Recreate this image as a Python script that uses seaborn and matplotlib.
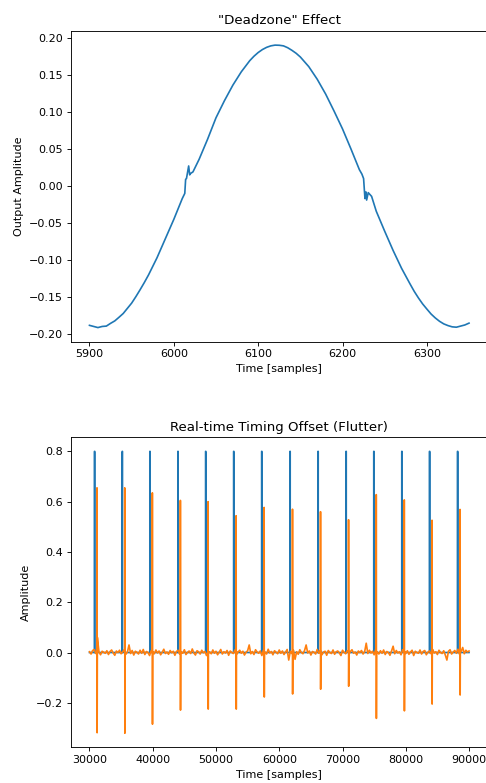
import numpy as np
import matplotlib
matplotlib.use("Agg")
import matplotlib.pyplot as plt
import seaborn as sns

# ---------------- "Deadzone" Effect ----------------
dz_time = [5900, 5905, 5910, 5915, 5920, 5925, 5930, 5935, 5940, 5945, 5950, 5955,
           5960, 5965, 5970, 5980, 5990,
           6000, 6010, 6013, 6014, 6015, 6017.6, 6018.8, 6020, 6022.7, 6030,
           6040, 6050, 6060, 6070, 6080, 6090, 6095, 6100, 6105, 6110, 6115,
           6120, 6125, 6130, 6135, 6140, 6145, 6150, 6160, 6170, 6180, 6190,
           6200, 6210, 6220, 6223, 6225, 6226.6, 6227.8, 6228.6, 6230.5, 6234.5,
           6240, 6250, 6260, 6270, 6280, 6285, 6290, 6295, 6300, 6305, 6310,
           6315, 6320, 6325, 6330, 6335, 6340, 6345, 6350]
dz_output = [-0.188, -0.1895, -0.191, -0.1895, -0.189, -0.1853, -0.182, -0.1771, -0.172, -0.165, -0.158, -0.1493,
             -0.140, -0.1303, -0.120, -0.097, -0.071,
             -0.045, -0.017, -0.010, 0.009, 0.010, 0.027, 0.015, 0.017, 0.019, 0.036,
             0.063, 0.092, 0.115, 0.136, 0.154, 0.169, 0.175, 0.180, 0.184, 0.187, 0.189,
             0.190, 0.1898, 0.189, 0.1865, 0.183, 0.179, 0.174, 0.161, 0.144, 0.124, 0.101,
             0.077, 0.050, 0.022, 0.016, 0.010, -0.017, -0.008, -0.019, -0.009, -0.014,
             -0.034, -0.061, -0.087, -0.111, -0.132, -0.1421, -0.151, -0.1591, -0.166, -0.1727, -0.178,
             -0.1825, -0.186, -0.1883, -0.190, -0.1905, -0.189, -0.1875, -0.185]

# ---------------- Real-time Timing Offset (Flutter) ----------------
signal_start, signal_end = 30000, 90000
clock_times = [30791, 35174, 39541, 43972, 48354, 52785, 57215,
               61693, 66123, 70554, 74937, 79367, 83750, 88180]
clock_level = 0.8
offset_times = [31191, 35574, 39941, 44372, 48754, 53185, 57615,
                62093, 66523, 70954, 75337, 79767, 84150, 88580]
offset_peaks = [0.655, 0.655, 0.635, 0.605, 0.600, 0.544, 0.577,
                0.570, 0.560, 0.528, 0.628, 0.607, 0.526, 0.569]
offset_dips = [-0.319, -0.321, -0.285, -0.229, -0.225, -0.225, -0.177,
               -0.165, -0.146, -0.134, -0.262, -0.232, -0.205, -0.169]
# baseline jitter of the timing offset, in thousandths
offset_noise_milli = [
    3, -6, 8, 12, -4, 60, 2, -9, 5, 1, -3, 7, -8, 4, 10, -2, -11, 6, 0, 9,
    -5, 3, 11, -7, 2, 30, -4, 8, -10, 5, 1, -6, 9, -3, 12, -8, 4, 0, -12, 7,
    3, -5, 10, -2, 6, -9, 1, 13, -4, 2, -7, 8, -1, 5, -11, 4, 9, -6, 2, -3,
    11, -8, 0, 6, -4, 14, -2, -10, 7, 3, -6, 9, -1, 4, -12, 8, 2, -5, 10, -3,
    5, -9, 1, 12, -6, 3, -2, 8, -11, 6, 0, -4, 10, -7, 2, 9, -3, 5, -10, 1,
    7, 30, -5, 4, -8, 11, 2, -3, 6, -12, 9, 0, -6, 13, -2, 4, -9, 7, 1, -5,
    10, -3, 6, -8, 2, 12, -30, 5, -4, 9, -27, 3, -7, 11, 0, -5, 8, 30, -2, 6,
    -10, 4, 1, -6, 12, -3, 7, -9, 2, 5, -11, 8, 0, -4, 10, -7, 3, 6, -2, -12,
    9, 1, -5, 7, -8, 4, 11, -3, 2, -10, 6, 0, 8, -6, 3, 37, -4, 9, -2, 5,
    -9, 12, 1, -6, 7, -3, 10, -8, 4, 0, -11, 6, 25, -5, 8, -2, 3, -9, 11, 1,
    -4, 7, -7, 2, 9, -12, 5, 0, -3, 10, -6, 4, 8, -9, 1, 6, -5, 12, -2, 3,
    -8, 9, 0, -4, 7, -10, -30, 5, 11, -6, 2, 8, -3, 13, -7, 4, 20, -5, 9, 2, 6]

# ---- build series ----
ct = np.array(clock_times, dtype=float)
clock_x = np.concatenate([[signal_start], np.column_stack([ct - 1, ct, ct + 40, ct + 41]).ravel(), [signal_end]])
clock_y = np.concatenate([[0.0], np.tile([0.0, clock_level, clock_level, 0.0], len(ct)), [0.0]])

noise = np.array(offset_noise_milli, dtype=float) / 1000.0
noise_x = np.linspace(signal_start, signal_end, len(noise))
ot = np.array(offset_times, dtype=float)
off_x = np.concatenate([noise_x, ot - 8, ot, ot + 20, ot + 45])
off_y = np.concatenate([noise, np.full(len(ot), 0.003), offset_peaks, offset_dips, np.full(len(ot), 0.004)])
order = np.argsort(off_x, kind="stable")
off_x, off_y = off_x[order], off_y[order]

# ---------------- plotting ----------------
DPI = 80
W, H = 486.0, 783.0
fig = plt.figure(figsize=(W / DPI, H / DPI), dpi=DPI)
ax1 = fig.add_axes([70.5 / W, (H - 341.7) / H, (488 - 70.5) / W, (341.7 - 31) / H])
ax2 = fig.add_axes([70.5 / W, (H - 747.3) / H, (488 - 70.5) / W, (747.3 - 437.3) / H])

sns.lineplot(x=dz_time, y=dz_output, ax=ax1, color="#1f77b4", linewidth=1.5,
             estimator=None, sort=False)
ax1.set_title('"Deadzone" Effect')
ax1.set_xlabel("Time [samples]")
ax1.set_ylabel("Output Amplitude")

sns.lineplot(x=clock_x, y=clock_y, ax=ax2, color="#1f77b4", linewidth=1.5,
             estimator=None, sort=False)
sns.lineplot(x=off_x, y=off_y, ax=ax2, color="#ff7f0e", linewidth=1.5,
             estimator=None, sort=False)
ax2.set_title("Real-time Timing Offset (Flutter)")
ax2.set_xlabel("Time [samples]")
ax2.set_ylabel("Amplitude")

fig.savefig("out.png", dpi=DPI)
